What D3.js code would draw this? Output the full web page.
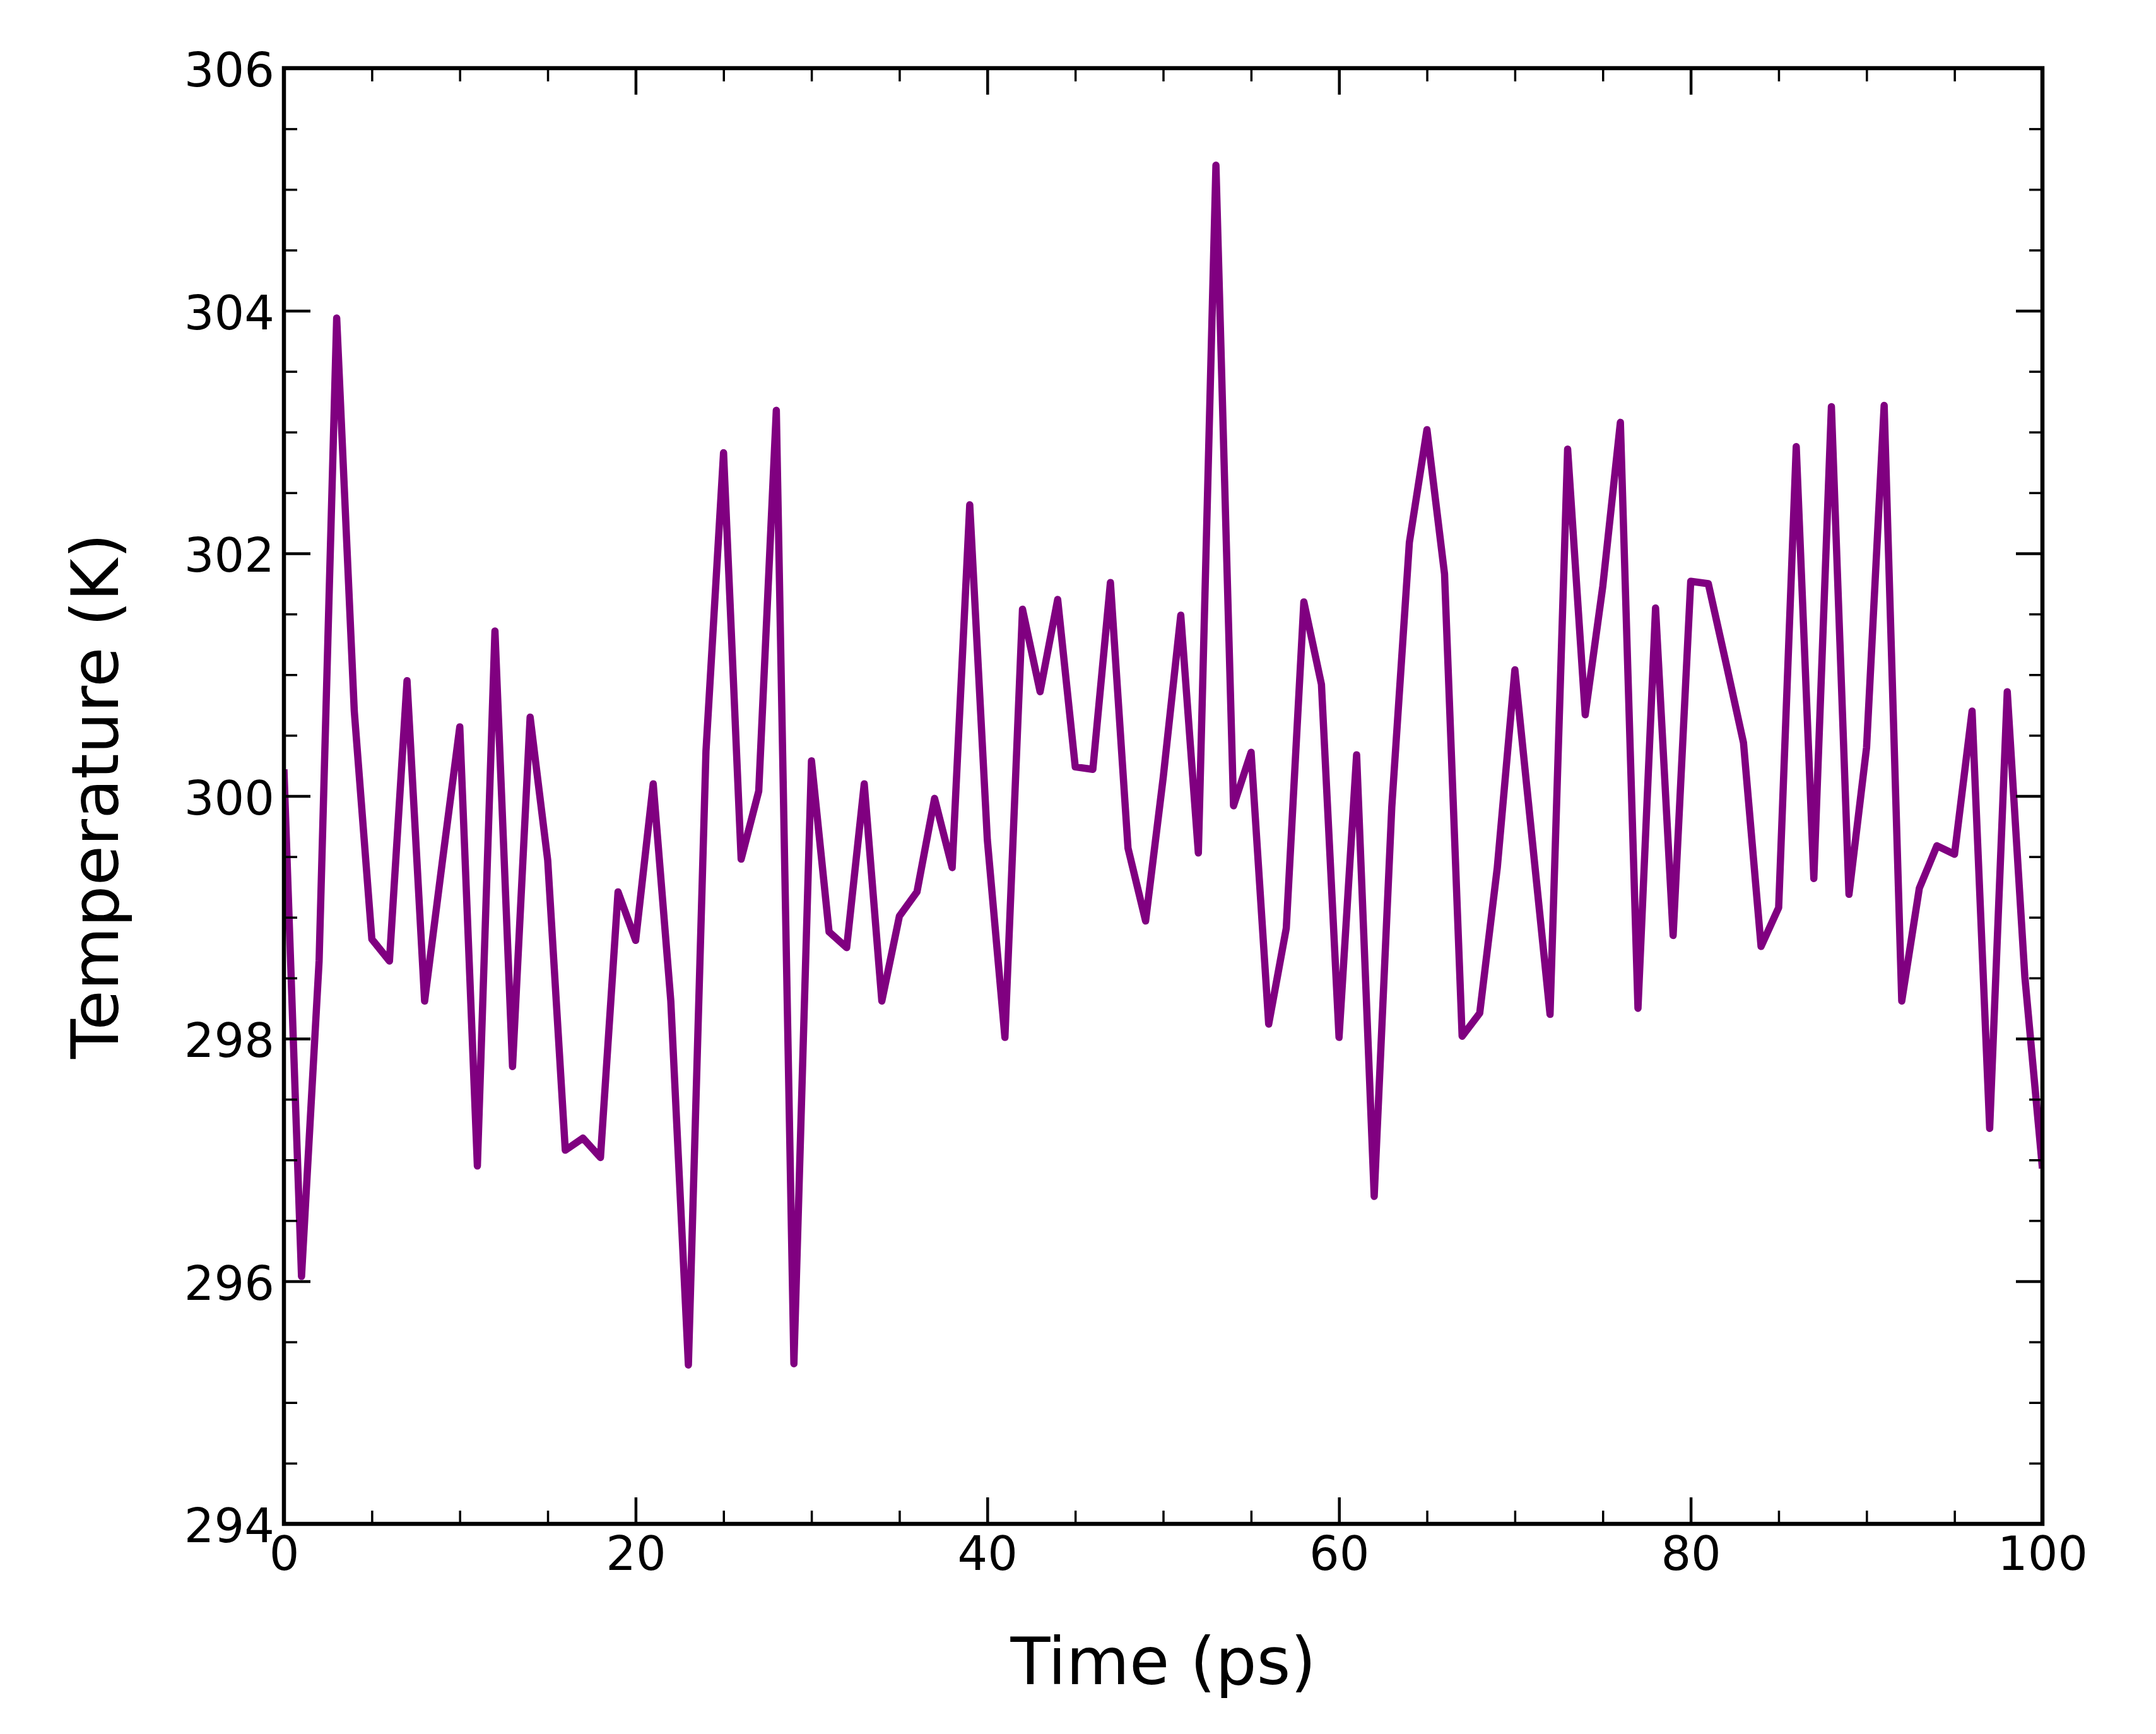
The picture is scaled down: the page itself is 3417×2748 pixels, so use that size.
<!DOCTYPE html>
<html>
<head>
<meta charset="utf-8">
<script src="https://cdn.jsdelivr.net/npm/d3@7"></script>
<style>
  html, body { margin: 0; padding: 0; background: #fff; }
  svg { display: block; }
  text { font-family: "DejaVu Sans", sans-serif; fill: #000; }
</style>
</head>
<body>
<script>
// ---- Data ----
const time = [0,1,2,3,4,5,6,7,8,9,10,11,12,13,14,15,16,17,18,19,20,21,22,23,24,25,26,27,28,29,30,
  31,32,33,34,35,36,37,38,39,40,41,42,43,44,45,46,47,48,49,50,51,52,53,54,55,56,57,58,59,60,
  61,62,63,64,65,66,67,68,69,70,71,72,73,74,75,76,77,78,79,80,81,82,83,84,85,86,87,88,89,90,
  91,92,93,94,95,96,97,98,99,100];
const temperature = [300.22,296.04,298.64,303.94,300.70,298.82,298.64,300.95,298.31,299.45,
  300.57,296.95,301.36,297.77,300.65,299.47,297.08,297.18,297.02,299.21,
  298.81,300.10,298.31,295.31,300.37,302.83,299.48,300.04,303.18,295.32,
  300.29,298.88,298.75,300.10,298.31,299.01,299.21,299.98,299.41,302.40,
  299.64,298.01,301.54,300.86,301.62,300.24,300.22,301.76,299.57,298.97,
  300.15,301.49,299.53,305.20,299.92,300.36,298.12,298.91,301.60,300.92,
  298.01,300.34,296.70,299.91,302.09,303.02,301.83,298.02,298.21,299.41,
  301.04,299.62,298.20,302.86,300.67,301.73,303.08,298.25,301.55,298.85,
  301.77,301.75,301.10,300.44,298.76,299.08,302.88,299.32,303.21,299.19,
  300.40,303.22,298.31,299.24,299.59,299.52,300.70,297.26,300.86,298.51,
  296.93];
const xMajorTicks = [0,20,40,60,80,100];
const xMinorTicks = [5,10,15,25,30,35,45,50,55,65,70,75,85,90,95];
const yMajorTicks = [294,296,298,300,302,304,306];
const yMinorTicks = [294.5,295,295.5,296.5,297,297.5,298.5,299,299.5,300.5,301,301.5,302.5,303,303.5,304.5,305,305.5];
const xLabel = "Time (ps)";
const yLabel = "Temperature (K)";

// ---- Layout ----
const W = 3417, H = 2748;
const L = 450, R = 3237, T = 108, B = 2415;

const svg = d3.select("body").append("svg").attr("width", W).attr("height", H);
svg.append("rect").attr("width", W).attr("height", H).attr("fill", "#fff");

const x = d3.scaleLinear().domain([0, 100]).range([L, R]);
const y = d3.scaleLinear().domain([294, 306]).range([B, T]);

svg.append("clipPath").attr("id", "clip")
  .append("rect").attr("x", L).attr("y", T).attr("width", R - L).attr("height", B - T);

const line = d3.line().x((d, i) => x(time[i])).y(d => y(d));
svg.append("path")
  .datum(temperature)
  .attr("clip-path", "url(#clip)")
  .attr("d", line)
  .attr("fill", "none")
  .attr("stroke", "#800080")
  .attr("stroke-width", 11.5)
  .attr("stroke-linejoin", "round")
  .attr("stroke-linecap", "butt");

const MAJ = 42, MIN = 21;
function styleAxis(g, w) {
  g.select(".domain").remove();
  g.selectAll(".tick line").attr("stroke", "#000").attr("stroke-width", w);
}

// Bottom
svg.append("g").attr("transform", `translate(0,${B})`)
  .call(d3.axisBottom(x).tickValues(xMinorTicks).tickSize(-MIN).tickFormat(""))
  .call(g => styleAxis(g, 3.5));
const gb = svg.append("g").attr("transform", `translate(0,${B})`)
  .call(d3.axisBottom(x).tickValues(xMajorTicks).tickSize(-MAJ).tickPadding(20).tickFormat(d3.format("d")))
  .call(g => styleAxis(g, 4.5));
gb.selectAll("text").attr("font-size", 75).attr("font-family", "DejaVu Sans, sans-serif").attr("fill", "#000");

// Top
svg.append("g").attr("transform", `translate(0,${T})`)
  .call(d3.axisTop(x).tickValues(xMinorTicks).tickSize(-MIN).tickFormat(""))
  .call(g => styleAxis(g, 3.5));
svg.append("g").attr("transform", `translate(0,${T})`)
  .call(d3.axisTop(x).tickValues(xMajorTicks).tickSize(-MAJ).tickFormat(""))
  .call(g => styleAxis(g, 4.5));

// Left
svg.append("g").attr("transform", `translate(${L},0)`)
  .call(d3.axisLeft(y).tickValues(yMinorTicks).tickSize(-MIN).tickFormat(""))
  .call(g => styleAxis(g, 3.5));
const gl = svg.append("g").attr("transform", `translate(${L},0)`)
  .call(d3.axisLeft(y).tickValues(yMajorTicks).tickSize(-MAJ).tickPadding(15).tickFormat(d3.format("d")))
  .call(g => styleAxis(g, 4.5));
gl.selectAll("text").attr("font-size", 75).attr("font-family", "DejaVu Sans, sans-serif").attr("fill", "#000").attr("dy", "0.38em");

// Right
svg.append("g").attr("transform", `translate(${R},0)`)
  .call(d3.axisRight(y).tickValues(yMinorTicks).tickSize(-MIN).tickFormat(""))
  .call(g => styleAxis(g, 3.5));
svg.append("g").attr("transform", `translate(${R},0)`)
  .call(d3.axisRight(y).tickValues(yMajorTicks).tickSize(-MAJ).tickFormat(""))
  .call(g => styleAxis(g, 4.5));

// Frame
svg.append("rect")
  .attr("x", L).attr("y", T).attr("width", R - L).attr("height", B - T)
  .attr("fill", "none").attr("stroke", "#000").attr("stroke-width", 6.5);

// Axis titles
svg.append("text")
  .attr("x", (L + R) / 2).attr("y", 2669)
  .attr("text-anchor", "middle").attr("font-size", 103)
  .text(xLabel);
svg.append("text")
  .attr("transform", `translate(187,${(T + B) / 2}) rotate(-90)`)
  .attr("text-anchor", "middle").attr("font-size", 103)
  .text(yLabel);
</script>
</body>
</html>
